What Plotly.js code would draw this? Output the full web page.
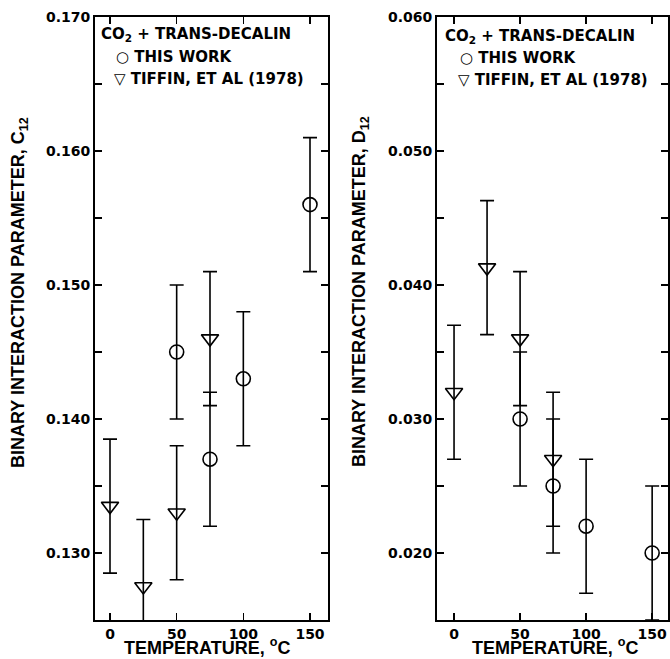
<!DOCTYPE html>
<html>
<head>
<meta charset="utf-8">
<script src="https://cdn.plot.ly/plotly-3.0.1.min.js"></script>
<style>html,body{margin:0;padding:0;background:#fff;}#chart{width:670px;height:659px;}</style>
</head>
<body>
<div id="chart"></div>
<script>
// ---- data ----
var tempThisWork = [50, 75, 100, 150];
var tempTiffin = [0, 25, 50, 75];

var c12ThisWork = [0.145, 0.137, 0.143, 0.156];
var c12ThisWorkErr = [0.005, 0.005, 0.005, 0.005];
var c12Tiffin = [0.1335, 0.1275, 0.133, 0.146];
var c12TiffinErr = [0.005, 0.005, 0.005, 0.005];

var d12ThisWork = [0.030, 0.025, 0.022, 0.020];
var d12ThisWorkErr = [0.005, 0.005, 0.005, 0.005];
var d12Tiffin = [0.032, 0.0413, 0.036, 0.027];
var d12TiffinErr = [0.005, 0.005, 0.005, 0.005];

var xTickVals = [0, 50, 100, 150];
var xTickText = ['0', '50', '100', '150'];
var c12TickVals = [0.130, 0.140, 0.150, 0.160, 0.170];
var c12TickText = ['0.130', '0.140', '0.150', '0.160', '0.170'];
var d12TickVals = [0.020, 0.030, 0.040, 0.050, 0.060];
var d12TickText = ['0.020', '0.030', '0.040', '0.050', '0.060'];

var legendTitle = 'CO<sub>2</sub> + TRANS-DECALIN';
var nameThisWork = 'THIS WORK';
var nameTiffin = 'TIFFIN, ET AL (1978)';
var xTitle = 'TEMPERATURE, <sup>o</sup>C';
var yTitleC = 'BINARY INTERACTION PARAMETER, C<sub>12</sub>';
var yTitleD = 'BINARY INTERACTION PARAMETER, D<sub>12</sub>';

// ---- style ----
var FONT = 'DejaVu Sans, Arial, sans-serif';
var TFONT = 'Liberation Sans, Arial, sans-serif';
var W = 670, H = 659;
function px(x) { return x / W; }
function py(y) { return 1 - y / H; }

function errStyle(arr) {
  return {type: 'data', array: arr, visible: true, color: '#000', thickness: 1.6, width: 7};
}
function circleTrace(x, y, e, xa, ya) {
  return {x: x, y: y, xaxis: xa, yaxis: ya, mode: 'markers', type: 'scatter', name: nameThisWork,
    marker: {symbol: 'circle-open', size: 14, color: '#000', line: {width: 1.6, color: '#000'}},
    error_y: errStyle(e), showlegend: false, cliponaxis: true};
}
function triTrace(x, y, e, xa, ya) {
  return {x: x, y: y, xaxis: xa, yaxis: ya, mode: 'markers', type: 'scatter', name: nameTiffin,
    marker: {symbol: 'triangle-down-open', size: 15, color: '#000', line: {width: 1.6, color: '#000'}},
    error_y: errStyle(e), showlegend: false, cliponaxis: true};
}

var traces = [
  triTrace(tempTiffin, c12Tiffin, c12TiffinErr, 'x', 'y'),
  circleTrace(tempThisWork, c12ThisWork, c12ThisWorkErr, 'x', 'y'),
  triTrace(tempTiffin, d12Tiffin, d12TiffinErr, 'x2', 'y2'),
  circleTrace(tempThisWork, d12ThisWork, d12ThisWorkErr, 'x2', 'y2')
];

var tickFont = {family: FONT, size: 14, color: '#000', weight: 'bold'};
function xAxis(dom, rng, anchor) {
  return {domain: dom, range: rng, anchor: anchor, tickvals: xTickVals, ticktext: xTickText,
    ticks: 'inside', ticklen: 7, tickwidth: 1.5, tickcolor: '#000',
    showline: true, linecolor: '#000', linewidth: 2, mirror: 'ticks',
    showgrid: false, zeroline: false, tickfont: tickFont, fixedrange: true};
}
function yAxis(dom, rng, anchor, tv, tt) {
  return {domain: dom, range: rng, anchor: anchor, tickvals: tv, ticktext: tt,
    ticks: 'inside', ticklen: 7, tickwidth: 1.5, tickcolor: '#000',
    minor: {dtick: 0.005, ticks: 'inside', ticklen: 7, tickwidth: 1.5, tickcolor: '#000', showgrid: false},
    showline: true, linecolor: '#000', linewidth: 2, mirror: 'ticks',
    showgrid: false, zeroline: false, tickfont: tickFont, fixedrange: true};
}

var yDom = [py(620), py(17)];
var layout = {
  width: W, height: H,
  margin: {l: 0, r: 0, t: 0, b: 0},
  paper_bgcolor: '#fff', plot_bgcolor: '#fff',
  showlegend: false,
  xaxis: xAxis([px(95), px(328)], [-11.25, 163.5], 'y'),
  yaxis: yAxis(yDom, [0.125, 0.170], 'x', c12TickVals, c12TickText),
  xaxis2: xAxis([px(437), px(668)], [-12.9, 162], 'y2'),
  yaxis2: yAxis(yDom, [0.015, 0.060], 'x2', d12TickVals, d12TickText),
  annotations: []
};

var annFont = {family: FONT, size: 15, color: '#000', weight: 'bold'};
var titleFont = {family: TFONT, size: 18, color: '#000', weight: 'bold'};
function ann(text, x, y, opts) {
  var a = {text: text, xref: 'paper', yref: 'paper', x: px(x), y: py(y), showarrow: false,
    xanchor: 'left', yanchor: 'middle', font: annFont};
  for (var k in opts) a[k] = opts[k];
  layout.annotations.push(a);
}
// legends (inside each panel)
[[99, 35], [443, 36]].forEach(function (p) {
  ann(legendTitle, p[0], p[1], {});
  ann('\u25CB ' + nameThisWork, p[0] + 15, p[1] + 22, {});
  ann('\u25BD ' + nameTiffin, p[0] + 13, p[1] + 44, {});
});
// axis titles
ann(xTitle, 207, 659, {xanchor: 'center', yanchor: 'bottom', borderpad: 0, font: titleFont});
ann(xTitle, 555, 659, {xanchor: 'center', yanchor: 'bottom', borderpad: 0, font: titleFont});
ann(yTitleC, 20, 293, {xanchor: 'center', textangle: -90, font: titleFont});
ann(yTitleD, 361, 291, {xanchor: 'center', textangle: -90, font: titleFont});

Plotly.newPlot('chart', traces, layout, {staticPlot: true, displayModeBar: false});
</script>
</body>
</html>
